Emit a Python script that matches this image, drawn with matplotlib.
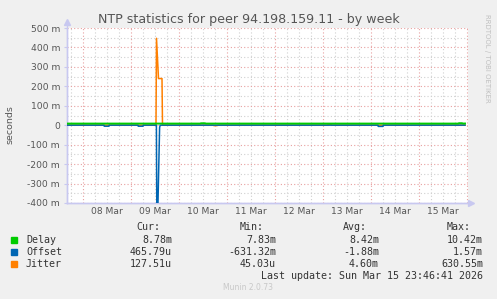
import matplotlib
matplotlib.use('Agg')
import matplotlib.pyplot as plt
from matplotlib.ticker import MultipleLocator, FixedLocator

# hours counted from 08 Mar 00:00
day_labels = ['08 Mar', '09 Mar', '10 Mar', '11 Mar', '12 Mar', '13 Mar', '14 Mar', '15 Mar']
y_ticks = [500, 400, 300, 200, 100, 0, -100, -200, -300, -400]  # milliseconds

delay_t = [-8, 58.5, 59, 61, 61.5, 187.5, 188, 189.5, 190, 191]
delay_v = [8.4, 8.4, 10.0, 10.0, 8.4, 8.4, 10.4, 10.4, 8.6, 8.78]

offset_t = [-8, 10.5, 10.6, 13, 13.1, 27.5, 27.6, 30, 30.1, 36.7, 37.0, 38.3, 38.6,
            147.5, 147.6, 150, 150.1, 191]
offset_v = [0.4, 0.4, -5, -5, 0.4, 0.4, -5, -5, 0.4, 0.4, -631.3, -12, 0.4,
            0.4, -6, -6, 0.4, 0.47]

jitter_t = [-8, 36.5, 36.75, 37.75, 39.5, 39.75, 65, 65.5, 67, 67.5, 122, 122.5, 124, 124.5, 191]
jitter_v = [0.2, 0.2, 447, 240, 240, 0.2, 0.2, -2.0, -2.0, 0.2, 0.2, 3.0, 3.0, 0.2, 0.13]

series_names = ['Delay', 'Offset', 'Jitter']
cur_vals = ['8.78m', '465.79u', '127.51u']
min_vals = ['7.83m', '-631.32m', '45.03u']
avg_vals = ['8.42m', '-1.88m', '4.60m']
max_vals = ['10.42m', '1.57m', '630.55m']
colors = ['#00CC00', '#0066B3', '#FF8000']

W, H = 497, 299
fig = plt.figure(figsize=(W / 100, H / 100), dpi=100, facecolor='#F0F0F0')
ax = fig.add_axes([67 / W, 1 - 203 / H, (468 - 67) / W, (203 - 28) / H])
ax.set_facecolor('white')

ax.plot(jitter_t, jitter_v, color=colors[2], lw=1.1, zorder=3)
ax.plot(offset_t, offset_v, color=colors[1], lw=1.1, zorder=4)
ax.plot(delay_t, delay_v, color=colors[0], lw=1.4, zorder=5)

ax.set_xlim(-8, 192.5)
ax.set_ylim(-400, 500)

# grid: red majors (day / 100 m), grey minors (6 h / 50 m)
ax.xaxis.set_major_locator(MultipleLocator(24))
ax.xaxis.set_minor_locator(MultipleLocator(6))
ax.yaxis.set_major_locator(FixedLocator(y_ticks))
ax.yaxis.set_minor_locator(MultipleLocator(50))
ax.grid(which='minor', color='#D0D0D0', lw=0.8, linestyle=(0, (1, 2)))
ax.grid(which='major', color='#E8A0A0', lw=0.8, linestyle=(0, (1, 2)))
ax.set_axisbelow(True)

ax.set_xticklabels([])
ax.tick_params(axis='x', which='both', length=0)
ax.set_yticklabels([f'{v} m' if v != 0 else '0' for v in y_ticks])
ax.tick_params(axis='y', which='major', length=2, color='#C8C8F0', labelsize=6.6,
               labelcolor='#555555', pad=3)
ax.tick_params(axis='y', which='minor', length=0)

for i, lab in enumerate(day_labels):
    ax.text(12 + 24 * i, -0.05, lab, transform=ax.get_xaxis_transform(),
            ha='center', va='center', fontsize=6.6, color='#555555')

for s in ['top', 'right']:
    ax.spines[s].set_visible(False)
for s in ['left', 'bottom']:
    ax.spines[s].set_color('#C8C8F0')
    ax.spines[s].set_linewidth(1.0)

# axis arrows
ax.plot([0, 0], [0, 1.03], transform=ax.transAxes, color='#C8C8F0', lw=1, clip_on=False)
ax.plot([0, 1.005], [0, 0], transform=ax.transAxes, color='#C8C8F0', lw=1, clip_on=False)
ax.plot([0], [1.035], marker='^', ms=5, color='#C8C8F0', transform=ax.transAxes, clip_on=False)
ax.plot([1.007], [0], marker='>', ms=5, color='#C8C8F0', transform=ax.transAxes, clip_on=False)

fig.text(249 / W, 1 - 19 / H, 'NTP statistics for peer 94.198.159.11 - by week',
         ha='center', va='center', fontsize=9.1, color='#555555')
fig.text(10 / W, 1 - 125 / H, 'seconds', rotation=90, ha='center', va='center',
         fontsize=6.8, color='#555555')
fig.text(487 / W, 1 - 58 / H, 'RRDTOOL / TOBI OETIKER', rotation=270, ha='center',
         va='center', fontsize=5, color='#C0C0C0')

# legend block
mono = dict(family='DejaVu Sans Mono', fontsize=7.2, color='#333333', va='center')
col_right = [172, 276, 379, 483]
headers = ['Cur:', 'Min:', 'Avg:', 'Max:']
for xr, htxt in zip(col_right, headers):
    fig.text((xr - 12) / W, 1 - 227 / H, htxt, ha='right', **mono)
rows_y = [240, 252, 264]
for i, name in enumerate(series_names):
    y = 1 - rows_y[i] / H
    fig.patches.append(plt.Rectangle((11 / W, y - 3 / H), 6 / W, 6 / H,
                                     transform=fig.transFigure, color=colors[i]))
    fig.text(26 / W, y, name, ha='left', **mono)
    for xr, vals in zip(col_right, [cur_vals, min_vals, avg_vals, max_vals]):
        fig.text(xr / W, y, vals[i], ha='right', **mono)
fig.text(483 / W, 1 - 276 / H, 'Last update: Sun Mar 15 23:46:41 2026', ha='right', **mono)
fig.text(248 / W, 1 - 288 / H, 'Munin 2.0.73', ha='center', va='center',
         fontsize=5.5, color='#C8C8C8')

fig.savefig('out.png', dpi=100, facecolor=fig.get_facecolor())
